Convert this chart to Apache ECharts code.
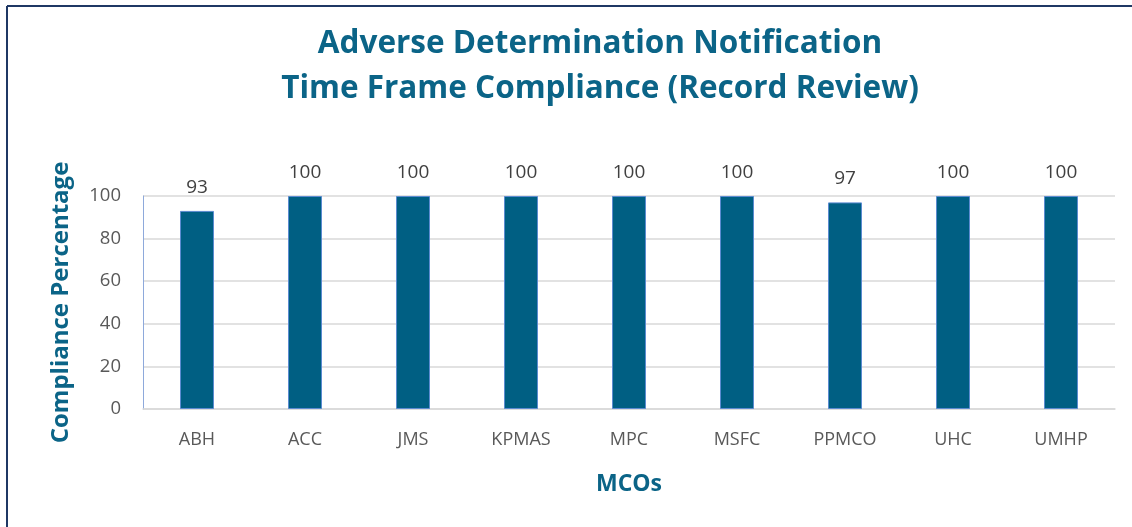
<!DOCTYPE html>
<html>
<head>
<meta charset="utf-8">
<script src="https://cdn.jsdelivr.net/npm/echarts@6/dist/echarts.min.js"></script>
<style>
  html, body { margin: 0; padding: 0; background: #fff; }
  #chart { width: 1132px; height: 527px; }
</style>
</head>
<body>
<div id="chart"></div>
<script>
// data
const mcoNames = ['ABH', 'ACC', 'JMS', 'KPMAS', 'MPC', 'MSFC', 'PPMCO', 'UHC', 'UMHP'];
const compliance = [93, 100, 100, 100, 100, 100, 97, 100, 100];
const titleLines = ['Adverse Determination Notification', 'Time Frame Compliance (Record Review)'];

const teal = '#0B6487';
const chart = echarts.init(document.getElementById('chart'));

chart.setOption({
  animation: false,
  title: {
    text: titleLines.join('\n'),
    left: 595,
    textAlign: 'center',
    top: 17,
    textStyle: {
      fontFamily: 'Open Sans',
      fontWeight: 'bold',
      fontSize: 31.5,
      lineHeight: 45,
      color: teal
    }
  },
  graphic: [
    // frame lines (left + top), right side is cut off in the original
    { type: 'line', shape: { x1: 7, y1: 6, x2: 1132, y2: 6 }, style: { stroke: '#1F3864', lineWidth: 2 } },
    { type: 'line', shape: { x1: 7, y1: 6, x2: 7, y2: 527 }, style: { stroke: '#1F3864', lineWidth: 2 } }
  ],
  grid: { left: 143, right: 17, top: 196, bottom: 118 },
  xAxis: {
    type: 'category',
    data: mcoNames,
    name: 'MCOs',
    nameLocation: 'middle',
    nameGap: 64,
    nameTextStyle: { fontFamily: 'Open Sans', fontWeight: 'bold', fontSize: 23, color: teal },
    axisLine: { lineStyle: { color: '#D9D9D9', width: 1.5 } },
    axisTick: { show: false },
    axisLabel: { fontFamily: 'Open Sans', fontSize: 18, color: '#595959', margin: 22 }
  },
  yAxis: {
    type: 'value',
    min: 0,
    max: 100,
    interval: 20,
    name: 'Compliance Percentage',
    nameLocation: 'middle',
    nameGap: 70,
    nameTextStyle: { fontFamily: 'Open Sans', fontWeight: 'bold', fontSize: 24, color: teal },
    axisLine: { show: true, lineStyle: { color: '#8EA9DB', width: 1 } },
    axisTick: { show: false },
    axisLabel: { fontFamily: 'Open Sans', fontSize: 18.5, color: '#595959', margin: 22 },
    splitLine: { lineStyle: { color: '#D9D9D9', width: 1.5 } }
  },
  series: [{
    type: 'bar',
    data: compliance,
    barWidth: 34,
    itemStyle: { color: '#005F83', borderColor: '#5B8BD0', borderWidth: 1 },
    label: {
      show: true,
      position: 'top',
      distance: 14,
      fontFamily: 'Open Sans',
      fontSize: 19,
      color: '#404040'
    }
  }]
});
</script>
</body>
</html>
